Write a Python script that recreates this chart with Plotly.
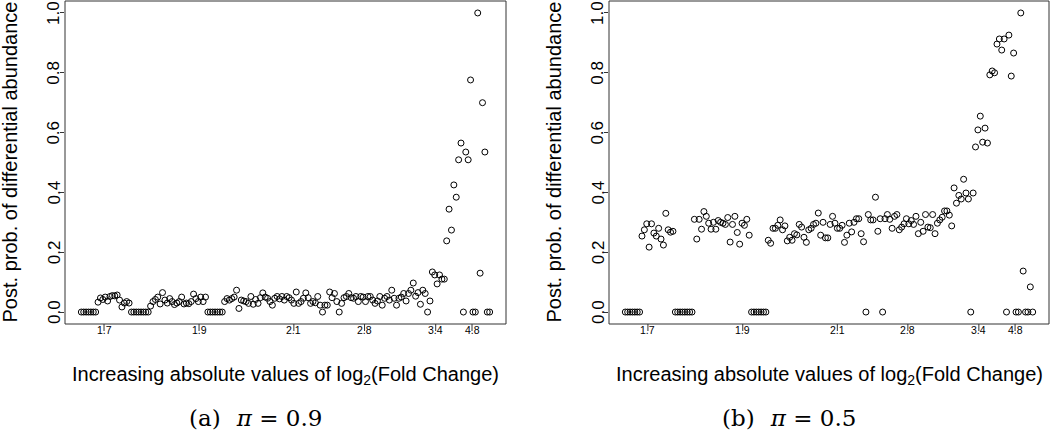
import plotly.graph_objects as go

# ---- data (index order of increasing |log2 FC|) ----
y_a = ([0]*7 +
       [0.033, 0.047, 0.042, 0.05, 0.037, 0.052, 0.055, 0.054, 0.057, 0.04, 0.017, 0.03, 0.035, 0.03] +
       [0]*8 +
       [0.02, 0.035, 0.042, 0.05, 0.027, 0.065, 0.04, 0.03, 0.045, 0.035, 0.025, 0.03, 0.035, 0.05,
        0.027, 0.03, 0.028, 0.035, 0.06, 0.045, 0.035, 0.05, 0.035, 0.05] +
       [0]*7 +
       [0.035, 0.045, 0.04, 0.045, 0.05, 0.073, 0.012, 0.04] +
       [0.037, 0.035, 0.029, 0.052, 0.026, 0.042, 0.029, 0.048, 0.064, 0.05, 0.046, 0.035, 0.023,
        0.046, 0.052, 0.044, 0.052, 0.04, 0.052, 0.048, 0.04, 0.029, 0.067, 0.029, 0.035, 0.046,
        0.064, 0.048, 0.029, 0.035, 0.031, 0.052, 0.023] +
       [0] +
       [0.023, 0.023, 0.067, 0.048, 0.062, 0.035] +
       [0] +
       [0.029, 0.048, 0.052, 0.062, 0.048, 0.046, 0.052, 0.035, 0.052, 0.05, 0.035, 0.052, 0.052,
        0.04, 0.029, 0.037, 0.052, 0.023, 0.046, 0.052, 0.04, 0.073, 0.046, 0.023, 0.046, 0.05,
        0.062, 0.037, 0.062, 0.073, 0.097, 0.053, 0.065, 0.026, 0.073, 0.062] +
       [0, 0.037, 0.134, 0.124, 0.094, 0.124, 0.11, 0.11, 0.238, 0.344, 0.274, 0.425, 0.384, 0.509,
        0.565, 0, 0.535, 0.509, 0.776, 0, 0, 1.0, 0.13, 0.70, 0.535, 0, 0])

y_b = ([0]*7 +
       [0.254, 0.275, 0.295, 0.217, 0.295, 0.264, 0.254, 0.28, 0.244, 0.224, 0.33, 0.275, 0.267, 0.27] +
       [0]*8 +
       [0.31, 0.244, 0.31, 0.277, 0.336, 0.32, 0.297, 0.277, 0.30, 0.277, 0.306, 0.30, 0.297, 0.293,
        0.316, 0.234, 0.293, 0.32, 0.266, 0.227, 0.297, 0.29, 0.31, 0.257] +
       [0]*7 +
       [0.24, 0.23, 0.28, 0.28, 0.29] +
       [0.308, 0.275, 0.288, 0.238, 0.25, 0.24, 0.262, 0.258, 0.293, 0.284, 0.25, 0.233, 0.275, 0.28,
        0.293, 0.297, 0.331, 0.257, 0.30, 0.248, 0.248, 0.293, 0.32, 0.297, 0.28, 0.28, 0.29, 0.233,
        0.257, 0.297, 0.268, 0.30, 0.312, 0.312, 0.262, 0.235, 0, 0.326, 0.308, 0.308, 0.384, 0.27,
        0.312, 0, 0.312, 0.326, 0.31, 0.28, 0.32, 0.326, 0.275, 0.284, 0.295, 0.312, 0.295, 0.306,
        0.293, 0.32, 0.262, 0.30, 0.27, 0.326, 0.284, 0.282, 0.326, 0.262, 0.297, 0.308, 0.317, 0.338,
        0.338, 0.324, 0.288, 0.415, 0.364, 0.39, 0.378, 0.444, 0.398, 0.378, 0] +
       [0.398, 0.552, 0.609, 0.655, 0.568, 0.615, 0.565, 0.793, 0.806, 0.80, 0.896, 0.913, 0.876,
        0.913, 0, 0.926, 0.789, 0.866, 0, 0, 1.0, 0.137, 0, 0, 0.084, 0])

tick_pos = [10.5, 50.3, 90, 119.6, 149.4, 164.6]
tick_labels = ["1.7", "1.9", "2.1", "2.8", "3.4", "4.8"]
y_ticks = [0, 0.2, 0.4, 0.6, 0.8, 1.0]
y_tick_labels = ["0.0", "0.2", "0.4", "0.6", "0.8", "1.0"]
captions = ["(a)\u2002\u2009<i>π</i> = 0.9", "(b)\u2002\u2009<i>π</i> = 0.5"]
y_title = "Post. prob. of differential abundance"
x_title = "Increasing absolute values of log<sub>2</sub>(Fold Change)"

N = len(y_a)
x_idx = list(range(1, N + 1))

W, H = 1050, 435
box_a = (65, 506)
box_b = (609, 1049)
box_top, box_bot = 1, 324

def px(v): return v / W
def py(v): return 1 - v / H

fig = go.Figure()
marker = dict(symbol="circle-open", size=6, color="black", line=dict(width=1, color="black"))
fig.add_trace(go.Scatter(x=x_idx, y=y_a, mode="markers", marker=marker, xaxis="x", yaxis="y", showlegend=False))
fig.add_trace(go.Scatter(x=x_idx, y=y_b, mode="markers", marker=marker, xaxis="x2", yaxis="y2", showlegend=False))

pad = 0.04 * (N - 1)
xr = [1 - pad, N + pad]
axcommon_x = dict(range=xr, showgrid=False, zeroline=False, showline=False, ticks="",
                  showticklabels=False)
axcommon_y = dict(range=[-0.04, 1.04], showgrid=False, zeroline=False, showline=False,
                  ticks="outside", ticklen=4, tickcolor="#333", tickwidth=1,
                  tickvals=y_ticks, showticklabels=False,
                  domain=[py(box_bot), py(box_top)])

fig.update_layout(
    width=W, height=H, margin=dict(l=0, r=0, t=0, b=0, autoexpand=False),
    paper_bgcolor="white", plot_bgcolor="white",
    xaxis=dict(axcommon_x, domain=[px(box_a[0]), px(box_a[1])], anchor="y"),
    yaxis=dict(axcommon_y, anchor="x"),
    xaxis2=dict(axcommon_x, domain=[px(box_b[0]), px(box_b[1])], anchor="y2"),
    yaxis2=dict(axcommon_y, anchor="x2"),
)

shapes = []
ann = []
sans = dict(family="Liberation Sans, Arial", size=20, color="black")
ytick_font = dict(family="Liberation Sans, Arial", size=17, color="black")
xtick_font = dict(family="Liberation Sans, Arial", size=10.5, color="black")
serif = dict(family="DejaVu Serif, Liberation Serif", size=23, color="black")

for (l, r), xa, ya, cap, capx in [(box_a, "x", "y", captions[0], 255),
                                  (box_b, "x2", "y2", captions[1], 789)]:
    shapes.append(dict(type="rect", xref="paper", yref="paper", x0=px(l), x1=px(r),
                       y0=py(box_bot), y1=py(box_top), line=dict(color="#333", width=1)))
    for t, lab in zip(tick_pos, tick_labels):
        shapes.append(dict(type="line", xref=xa, yref="paper", x0=t, x1=t,
                           y0=py(box_bot), y1=py(box_bot + 7), line=dict(color="#333", width=1)))
        ann.append(dict(text=lab, xref=xa, yref="paper", x=t, y=py(330), showarrow=False,
                        font=xtick_font, xanchor="center", yanchor="middle"))
    for v, lab in zip(y_ticks, y_tick_labels):
        ann.append(dict(text=lab, textangle=-90, xref="paper", yref=ya, x=px(l - 11), y=v,
                        showarrow=False, font=ytick_font, xanchor="center", yanchor="middle"))
    ann.append(dict(text=y_title, textangle=-90, xref="paper", yref="paper",
                    x=px(l - 56), y=py((box_top + box_bot) / 2), showarrow=False, font=sans,
                    xanchor="center", yanchor="middle"))
    ann.append(dict(text=x_title, xref="paper", yref="paper",
                    x=px((l + r) / 2), y=py(375), showarrow=False, font=sans,
                    xanchor="center", yanchor="middle"))
    ann.append(dict(text=cap, xref="paper", yref="paper", x=px(capx), y=py(418), showarrow=False,
                    font=serif, xanchor="center", yanchor="middle"))

fig.update_layout(shapes=shapes, annotations=ann)

fig.write_html("out.html", config={"displayModeBar": False},
               post_script="document.body.style.margin='0';")
